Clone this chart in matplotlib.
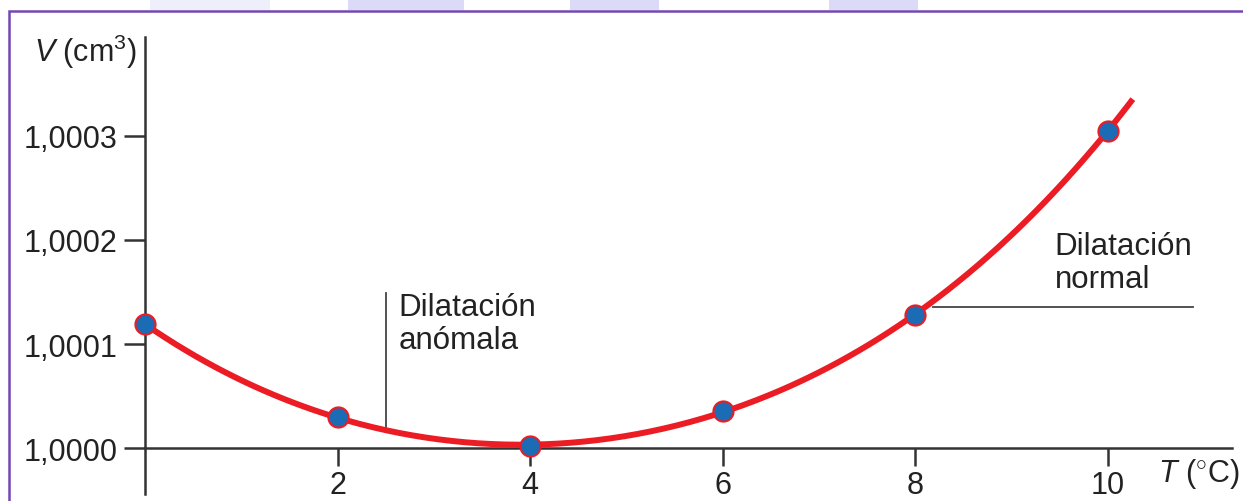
import numpy as np
import matplotlib.pyplot as plt
from matplotlib.patches import Rectangle

plt.rcParams['font.family'] = ['Liberation Sans', 'DejaVu Sans']
plt.rcParams['mathtext.fontset'] = 'custom'
plt.rcParams['mathtext.rm'] = 'Liberation Sans'
plt.rcParams['mathtext.it'] = 'Liberation Sans:italic'

# data
temp = [0, 2, 4, 6, 8, 10]
volume = [1.000119, 1.000030, 1.000002, 1.000036, 1.000128, 1.000305]
x_ticks = [2, 4, 6, 8, 10]
y_ticks = [1.0000, 1.0001, 1.0002, 1.0003]
y_labels = ['1,0000', '1,0001', '1,0002', '1,0003']

W, H = 1243, 502
fig = plt.figure(figsize=(W / 100, H / 100), dpi=100)

# faint watermark blocks above the frame
for x0, x1, a in [(150, 270, 0.35), (348, 464, 0.8), (570, 659, 0.8), (829, 918, 0.8)]:
    fig.patches.append(Rectangle((x0 / W, 1 - 11 / H), (x1 - x0) / W, 11 / H, transform=fig.transFigure,
                                 facecolor='#d3d3f6', edgecolor='none', alpha=a))

# purple frame
fig.patches.append(Rectangle((9 / W, -0.1), 1.2, 1 - 12 / H + 0.1, transform=fig.transFigure,
                             fill=False, edgecolor='#7446b4', linewidth=1.8))

ax = fig.add_axes([145 / W, 1 - 495 / H, (1232 - 145) / W, (495 - 38) / H])
ax.set_xlim(0, 11.29)
ax.set_ylim(1.0 - 0.000044, 1.000395)

for s in ['top', 'right']:
    ax.spines[s].set_visible(False)
ax.spines['bottom'].set_position(('data', 1.0))
for s in ['left', 'bottom']:
    ax.spines[s].set_color('#333333')
    ax.spines[s].set_linewidth(1.8)

ax.set_xticks(x_ticks)
ax.set_xticklabels([str(t) for t in x_ticks])
ax.set_yticks(y_ticks)
ax.set_yticklabels(y_labels)
ax.tick_params(axis='both', direction='out', length=13, width=1.8, color='#333333',
               labelsize=22, labelcolor='#222222', pad=6)
ax.tick_params(axis='x', pad=3)
ax.tick_params(axis='y', length=15, pad=5)

# smooth curve through the points
coef = np.polyfit(temp, volume, 4)
xs = np.linspace(0, 10.26, 300)
ax.plot(xs, np.polyval(coef, xs), color='#ec1c24', linewidth=4.3, solid_capstyle='butt', zorder=3)
ax.plot(temp, volume, 'o', markersize=14.5, markerfacecolor='#1b6cb5', markeredgecolor='#ec1c24',
        markeredgewidth=1.5, zorder=4, clip_on=False)

# annotations
x_an = 2.5
ax.plot([x_an, x_an], [np.polyval(coef, x_an), 1.000149], color='#444444', linewidth=1.3)
ax.text(2.63, 1.000150, 'Dilatación\nanómala', fontsize=22.5, color='#222222', va='top', ha='left',
        linespacing=1.15)
ax.plot([8.18, 10.88], [1.0001356, 1.0001356], color='#444444', linewidth=1.3, clip_on=False)
ax.text(9.45, 1.000209, 'Dilatación\nnormal', fontsize=22.5, color='#222222', va='top', ha='left',
        linespacing=1.15)

fig.text(137 / W, 1 - 52 / H, '$V$ (cm$^3$)', fontsize=22, color='#222222', ha='right', va='center')
fig.text(1240 / W, 1 - 474 / H, r'$T$ ($^{\circ}$C)', fontsize=22, color='#222222', ha='right', va='center')

fig.savefig('out.png', dpi=100)
